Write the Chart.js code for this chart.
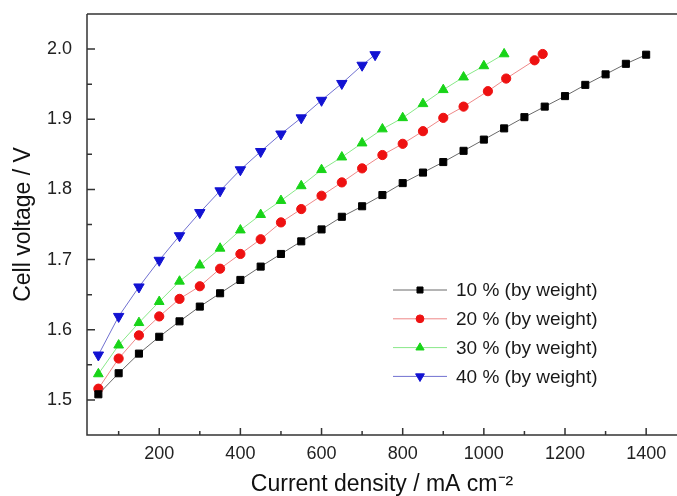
<!DOCTYPE html>
<html>
<head>
<meta charset="utf-8">
<script src="https://cdn.jsdelivr.net/npm/chart.js@4.4.1/dist/chart.umd.min.js"></script>
<style>
html, body { margin: 0; padding: 0; background: #fff; }
</style>
</head>
<body>
<canvas id="g_volt" width="677" height="496"></canvas>
<script>
// current density (mA cm-2) and cell voltage (V) for each loading
const x_10 = [50, 100, 150, 200, 250, 300, 350, 400, 450, 500, 550, 600, 650, 700, 750, 800, 850, 900, 950, 1000, 1050, 1100, 1150, 1200, 1250, 1300, 1350, 1400]
const v_10 = [1.508, 1.538, 1.566, 1.590, 1.612, 1.633, 1.652, 1.671, 1.690, 1.708, 1.726, 1.743, 1.761, 1.776, 1.792, 1.809, 1.824, 1.839, 1.855, 1.871, 1.887, 1.903, 1.918, 1.933, 1.949, 1.964, 1.979, 1.992]

const x_20 = [50, 100, 150, 200, 250, 300, 350, 400, 450, 500, 550, 600, 650, 700, 750, 800, 850, 900, 950, 1010, 1055, 1125, 1145]
const v_20 = [1.516, 1.559, 1.592, 1.619, 1.644, 1.662, 1.687, 1.708, 1.729, 1.753, 1.772, 1.791, 1.810, 1.830, 1.849, 1.865, 1.883, 1.902, 1.918, 1.940, 1.958, 1.984, 1.993]

const x_30 = [50, 100, 150, 200, 250, 300, 350, 400, 450, 500, 550, 600, 650, 700, 750, 800, 850, 900, 950, 1000, 1050]
const v_30 = [1.537, 1.578, 1.610, 1.640, 1.669, 1.692, 1.716, 1.742, 1.764, 1.784, 1.805, 1.828, 1.846, 1.866, 1.886, 1.902, 1.922, 1.942, 1.960, 1.976, 1.993]

const x_40 = [50, 100, 150, 200, 250, 300, 350, 400, 450, 500, 550, 600, 650, 700, 732]
const v_40 = [1.564, 1.619, 1.661, 1.699, 1.734, 1.767, 1.798, 1.828, 1.854, 1.879, 1.902, 1.927, 1.951, 1.977, 1.992]

const labels = ["10 % (by weight)", "20 % (by weight)", "30 % (by weight)", "40 % (by weight)"]

// axis ticks: labelled ones plus the minor ones between them
const x_ticks = [100, 200, 300, 400, 500, 600, 700, 800, 900, 1000, 1100, 1200, 1300, 1400]
const x_labels = [200, 400, 600, 800, 1000, 1200, 1400]
const y_ticks = [1.5, 1.55, 1.6, 1.65, 1.7, 1.75, 1.8, 1.85, 1.9, 1.95, 2.0]
const y_labels = [1.5, 1.6, 1.7, 1.8, 1.9, 2.0]

const FONT = "'Liberation Sans', Arial, sans-serif"

const pts = (xs, ys) => xs.map((x, i) => ({ x: x, y: ys[i] }))

const styles = [
    { marker: "#000000", line: "#6a6a6a", pointStyle: "rect", radius: 5, rotation: 0 },
    { marker: "#ee1111", line: "#ee8888", pointStyle: "circle", radius: 4.6, rotation: 0 },
    { marker: "#18d418", line: "#88e888", pointStyle: "triangle", radius: 5.6, rotation: 0 },
    { marker: "#1212d2", line: "#7070d0", pointStyle: "triangle", radius: 6, rotation: 180 }
]

const series = [pts(x_10, v_10), pts(x_20, v_20), pts(x_30, v_30), pts(x_40, v_40)]

const datasets = series.map((d, i) => ({
    label: labels[i],
    data: d,
    borderColor: styles[i].line,
    borderWidth: 1,
    pointStyle: styles[i].pointStyle,
    pointRadius: styles[i].radius,
    pointRotation: styles[i].rotation,
    pointBackgroundColor: styles[i].marker,
    pointBorderColor: styles[i].marker,
    pointBorderWidth: 1,
    tension: 0
}))

// frame + inward ticks + legend box in the lower right
const framePlugin = {
    id: "frame",
    afterDraw(chart) {
        const ctx = chart.ctx
        const a = chart.chartArea
        const sx = chart.scales.x
        const sy = chart.scales.y
        ctx.save()
        ctx.strokeStyle = "#333"
        ctx.lineWidth = 1.5
        ctx.beginPath()
        ctx.moveTo(a.left, a.top)
        ctx.lineTo(a.left, a.bottom)
        ctx.lineTo(a.right, a.bottom)
        ctx.moveTo(a.left, a.top)
        ctx.lineTo(a.right, a.top)
        ctx.stroke()

        ctx.lineWidth = 1.5
        ctx.beginPath()
        sx.ticks.forEach(t => {
            const px = sx.getPixelForValue(t.value)
            const len = x_labels.includes(t.value) ? 7 : 4
            ctx.moveTo(px, a.bottom)
            ctx.lineTo(px, a.bottom - len)
        })
        sy.ticks.forEach(t => {
            const py = sy.getPixelForValue(t.value)
            const len = y_labels.some(v => Math.abs(v - t.value) < 1e-6) ? 8 : 5
            ctx.moveTo(a.left, py)
            ctx.lineTo(a.left + len, py)
        })
        ctx.stroke()

        // legend
        const lx = 393, lw = 54, ty = 290, step = 28.8
        ctx.font = "19px " + FONT
        ctx.textBaseline = "middle"
        ctx.textAlign = "left"
        chart.data.datasets.forEach((ds, i) => {
            const y = ty + i * step
            ctx.strokeStyle = styles[i].line
            ctx.lineWidth = 1
            ctx.beginPath()
            ctx.moveTo(lx, y)
            ctx.lineTo(lx + lw, y)
            ctx.stroke()
            ctx.fillStyle = styles[i].marker
            ctx.strokeStyle = styles[i].marker
            Chart.helpers.drawPoint(ctx, {
                pointStyle: styles[i].pointStyle,
                rotation: styles[i].rotation,
                radius: styles[i].radius * 0.85,
                borderWidth: 1
            }, lx + lw / 2, y)
            ctx.fillStyle = "#1a1a1a"
            ctx.fillText(ds.label, 456, y + 1)
        })
        ctx.restore()
    }
}

new Chart(document.getElementById("g_volt"), {
    type: "line",
    data: { datasets: datasets },
    options: {
        responsive: false,
        animation: false,
        layout: { autoPadding: false, padding: { top: 14, right: 0, left: 0, bottom: 0 } },
        plugins: {
            legend: { display: false },
            tooltip: { enabled: false }
        },
        scales: {
            x: {
                type: "linear",
                min: 22,
                max: 1476,
                grid: { display: false, drawTicks: false },
                border: { display: false },
                afterBuildTicks: s => { s.ticks = x_ticks.map(v => ({ value: v })) },
                afterFit: s => { s.height = 61; s.paddingLeft = 0; s.paddingRight = 0 },
                ticks: {
                    autoSkip: false,
                    maxRotation: 0,
                    padding: 8,
                    color: "#222",
                    font: { family: FONT, size: 18 },
                    callback: v => x_labels.includes(v) ? String(v) : ""
                },
                title: {
                    display: true,
                    text: "Current density / mA cm\u207B\u00B2",
                    color: "#111",
                    font: { family: FONT, size: 23, lineHeight: 1 },
                    padding: { top: 0, bottom: 0 }
                }
            },
            y: {
                type: "linear",
                min: 1.45,
                max: 2.05,
                grid: { display: false, drawTicks: false },
                border: { display: false },
                afterBuildTicks: s => { s.ticks = y_ticks.map(v => ({ value: v })) },
                afterFit: s => { s.width = 87; s.paddingTop = 0; s.paddingBottom = 0 },
                ticks: {
                    autoSkip: false,
                    padding: 15,
                    color: "#222",
                    font: { family: FONT, size: 18 },
                    callback: v => y_labels.some(l => Math.abs(l - v) < 1e-6) ? v.toFixed(1) : ""
                },
                title: {
                    display: true,
                    text: "Cell voltage / V",
                    color: "#111",
                    font: { family: FONT, size: 23, lineHeight: 1 },
                    padding: { top: 12, bottom: 0 }
                }
            }
        }
    },
    plugins: [framePlugin]
})
</script>
</body>
</html>
